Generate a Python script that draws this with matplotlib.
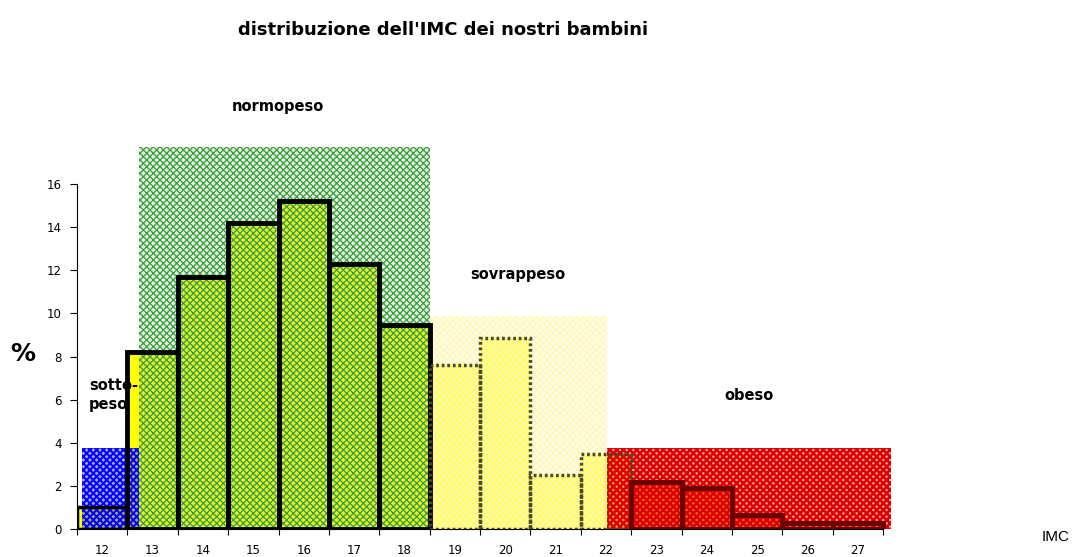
import matplotlib
matplotlib.use("Agg")
import matplotlib.pyplot as plt
from matplotlib.patches import Rectangle

# IMC classes and percentage of children
imc = [12, 13, 14, 15, 16, 17, 18, 19, 20, 21, 22, 23, 24, 25, 26, 27]
perc = [1.0, 8.2, 11.7, 14.2, 15.2, 12.3, 9.45, 7.6, 8.85, 2.5, 3.5, 2.2, 1.9, 0.65, 0.3, 0.3]

# weight classes: label, first IMC, last IMC, band height (%)
classes = ["sotto-\npeso", "normopeso", "sovrappeso", "obeso"]
class_from = [11.6, 12.73, 18.5, 22.02]
class_to = [12.73, 18.5, 22.02, 27.66]
class_top = [3.75, 17.7, 9.9, 3.75]

fig = plt.figure(figsize=(10.87, 5.57), dpi=100)
ax = fig.add_axes([77/1087, 1-529/557, 16.3*50.375/1087, 18*21.56/557])

# bar styles per class
def bar_fill(v):
    if v <= 18:
        return '#ffff00'
    if v <= 22:
        return '#ffff38'
    return '#f4a000'

def bar_edge(v):
    if v <= 12:
        return dict(edgecolor='black', linewidth=2.5)
    if v <= 18:
        return dict(edgecolor='black', linewidth=3.5)
    if v <= 22:
        return dict(edgecolor='#4a4a28', linewidth=2.5, linestyle=(0, (0.8, 0.8)))
    return dict(edgecolor='#6a0000', linewidth=3.5)

for v, p in zip(imc, perc):
    ax.bar(v, p, width=1.0, color=bar_fill(v), linewidth=0, zorder=2)
    ax.bar(v, p, width=1.0, fill=False, zorder=4, **bar_edge(v))

band_face = [(0.2, 0.2, 1.0, 0.45), (0.6, 0.82, 0.6, 0.3), (1.0, 0.98, 0.75, 0.35), (0.95, 0.2, 0.2, 0.45)]
band_hatch = ['#0000ff', '#3c9c3c', '#fff8b0', '#dd0000']
band_hlw = [1.4, 0.9, 0.8, 1.8]
for i in range(len(classes)):
    with plt.rc_context({'hatch.linewidth': band_hlw[i]}):
        ax.add_patch(Rectangle((class_from[i], 0), class_to[i]-class_from[i], class_top[i],
                               facecolor=band_face[i], edgecolor=band_hatch[i], hatch='xxxxx',
                               linewidth=0, zorder=3, clip_on=False))

ax.set_xlim(11.5, 27.8)
ax.set_ylim(0, 18)
for s in ['top', 'right']:
    ax.spines[s].set_visible(False)
ax.spines['left'].set_bounds(0, 16)
ax.spines['bottom'].set_bounds(11.5, 27.5)
ax.spines['left'].set_zorder(5)
ax.spines['bottom'].set_zorder(5)

ax.set_yticks(range(0, 17, 2))
ax.set_yticklabels([str(t) for t in range(0, 17, 2)], fontsize=8.5, family='Liberation Sans Narrow')
ax.set_xticks([v - 0.5 for v in imc] + [27.5])
ax.set_xticklabels([])
ax.set_xticks(imc, minor=True)
ax.set_xticklabels([str(v) for v in imc], minor=True, fontsize=8.5, family='Liberation Sans Narrow')
ax.tick_params(axis='x', which='minor', length=0, pad=11)
ax.tick_params(axis='x', which='major', length=4)
ax.tick_params(axis='y', length=5, pad=6)

fig.text(443/1087, 1-30/557, "distribuzione dell'IMC dei nostri bambini", ha='center', va='center',
         fontsize=13, fontweight='bold')
label_pos = [(89, 395), (278, 106), (518, 274), (749, 396)]
for lab, (x, y) in zip(classes, label_pos):
    fig.text(x/1087, 1-y/557, lab, ha='left' if lab.startswith('sotto') else 'center', va='center',
             fontsize=10.5, fontweight='bold', linespacing=1.3, zorder=10)
fig.text(23/1087, 1-354/557, "%", ha='center', va='center', fontsize=18, fontweight='bold')
fig.text(1056/1087, 1-537/557, "IMC", ha='center', va='center', fontsize=11, family='Liberation Sans')

fig.savefig("out.png", dpi=100)
